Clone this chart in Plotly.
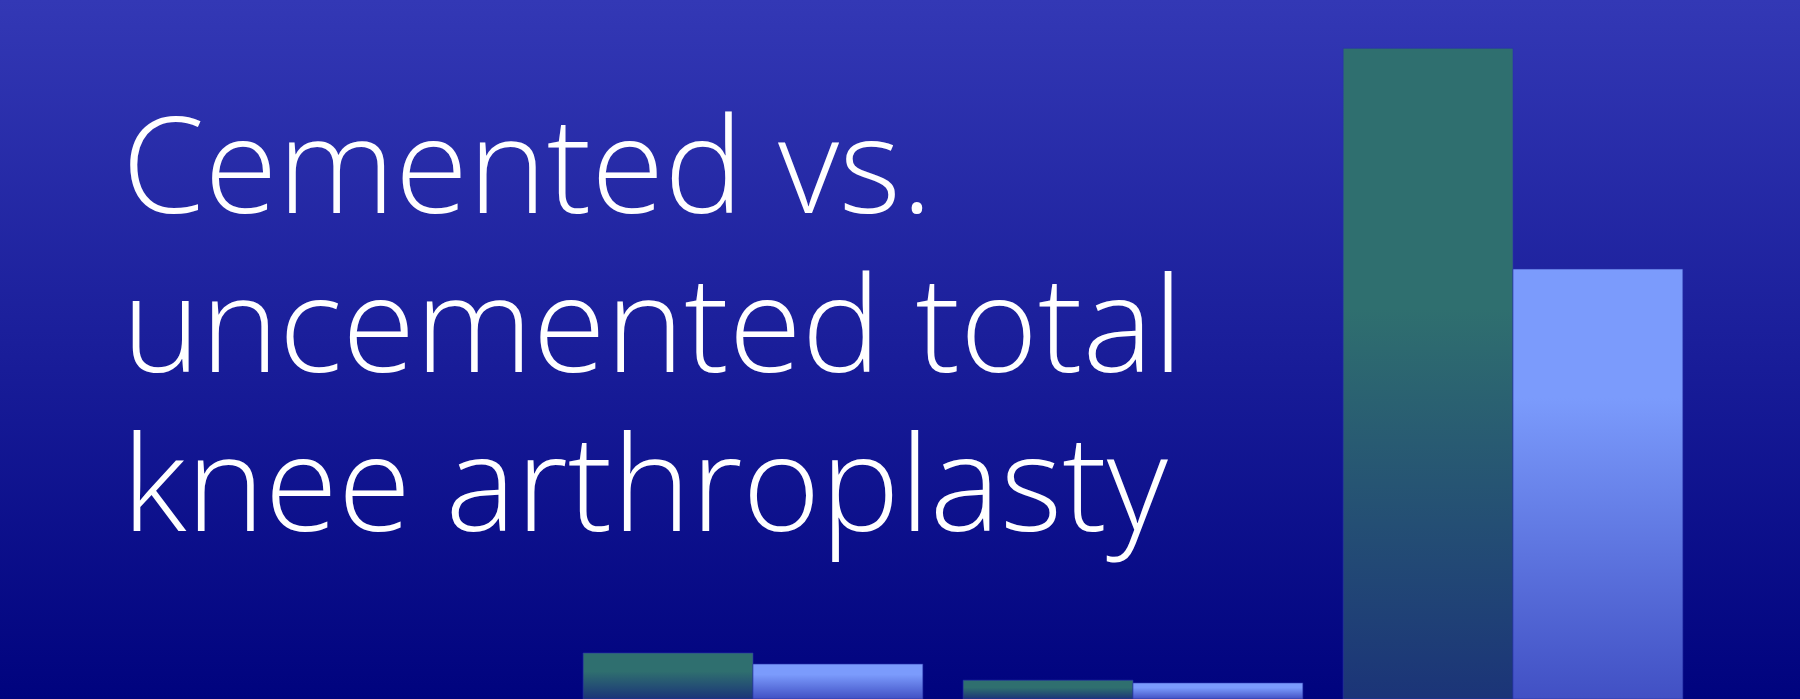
import plotly.graph_objects as go

# data
groups = ['Group A', 'Group B', 'Group C']
cemented = [1.0, 0.41, 14.15]
uncemented = [0.76, 0.35, 9.35]
series_names = ['Cemented', 'Uncemented']
title_lines = ['Cemented vs.', 'uncemented total', 'knee arthroplasty']

green_scale = [[0, '#1b3478'], [0.6, '#2f6f6f'], [1, '#2f6f6f']]
blue_scale = [[0, '#4150c4'], [0.7, '#7b9bfc'], [1, '#7b9bfc']]
bar_w = 0.447

fig = go.Figure()

# background gradient on the first (full page) subplot
fig.add_scatter(x=[0, 1, 1, 0, 0], y=[0, 0, 1, 1, 0],
                mode='lines', line=dict(width=0), fill='toself',
                fillgradient=dict(type='vertical', colorscale=[[0, '#00037e'], [1, '#3338b5']]),
                hoverinfo='skip', showlegend=False)

# bars drawn as filled shapes so each can carry a gradient
for s, (vals, cs, name) in enumerate(zip([cemented, uncemented], [green_scale, blue_scale], series_names)):
    for i, v in enumerate(vals):
        x0 = i - bar_w + s * bar_w
        x1 = x0 + bar_w
        fig.add_scatter(x=[x0, x1, x1, x0, x0], y=[0, 0, v, v, 0], xaxis='x2', yaxis='y2',
                        mode='lines', line=dict(width=1, color='rgba(40,50,170,0.6)'),
                        fill='toself', fillgradient=dict(type='vertical', colorscale=cs),
                        name=name, legendgroup=name, showlegend=False,
                        hovertemplate=groups[i] + ': %{y}<extra>' + name + '</extra>')

for k, line in enumerate(title_lines):
    fig.add_annotation(text=line, xref='paper', yref='paper', x=126 / 1800, y=1 - (214 + 159 * k) / 699,
                       xanchor='left', yanchor='bottom', showarrow=False, yshift=-40, xshift=-6,
                       font=dict(family='Open Sans', size=133, color='white', weight=300))

fig.update_layout(
    width=1800, height=699,
    margin=dict(l=0, r=0, t=0, b=0),
    paper_bgcolor='#000080', plot_bgcolor='rgba(0,0,0,0)',
    showlegend=False,
    xaxis=dict(range=[0, 1], domain=[0, 1], visible=False, fixedrange=True),
    yaxis=dict(range=[0, 1], domain=[0, 1], visible=False, fixedrange=True),
    xaxis2=dict(range=[-0.5, 2.5], domain=[563 / 1800, 1703 / 1800], visible=False, anchor='y2'),
    yaxis2=dict(range=[0, 15.2], domain=[0, 1], visible=False, anchor='x2'),
)
fig.write_html('out.html', config={'displayModeBar': False},
               post_script="document.body.style.margin='0';document.body.style.overflow='hidden';")
